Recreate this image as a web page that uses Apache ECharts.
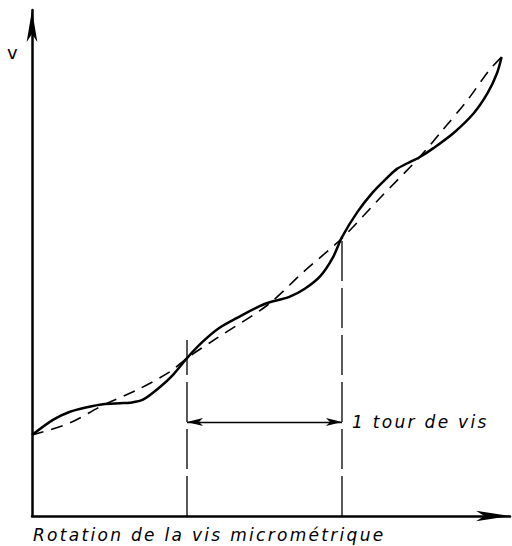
<!DOCTYPE html>
<html><head><meta charset="utf-8">
<script src="https://cdn.jsdelivr.net/npm/echarts@6/dist/echarts.min.js"></script>
<style>html,body{margin:0;padding:0;background:#fff}#c{width:512px;height:546px}#c svg text{letter-spacing:2.3px}</style>
</head><body><div id="c"></div>
<script>
// x: screw rotation in turns, y: v (arbitrary units)
const solidX = [0, 0.135, 0.245, 0.355, 0.458, 0.568, 0.632, 0.716, 0.826, 0.910, 1.0, 1.10, 1.21, 1.32, 1.50, 1.66, 1.76, 1.86, 1.94, 2.0, 2.10, 2.20, 2.29, 2.355, 2.44, 2.50, 2.59, 2.72, 2.85, 2.94, 3.0, 3.03];
const solidY = [1.60, 1.90, 2.06, 2.15, 2.21, 2.23, 2.24, 2.30, 2.55, 2.79, 3.12, 3.44, 3.72, 3.91, 4.19, 4.33, 4.49, 4.74, 5.10, 5.51, 6.01, 6.40, 6.68, 6.86, 7.00, 7.09, 7.27, 7.57, 7.96, 8.36, 8.75, 9.07];
const dashX = [0, 0.245, 0.458, 0.677, 0.89, 1.0, 1.19, 1.52, 1.75, 2.0, 2.25, 2.50, 2.65, 2.81, 2.95, 3.03];
const dashY = [1.60, 1.84, 2.19, 2.49, 2.85, 3.12, 3.51, 4.17, 4.82, 5.49, 6.30, 7.09, 7.63, 8.22, 8.81, 9.07];
const turnMarks = [1, 2];
const turnTops = [3.48, 5.53];
const arrowY = 1.86;
const xMax = 3.084, yMax = 10;
const xTitle = 'Rotation de la vis micrométrique';
const yTitle = 'v';
const turnLabel = '1 tour de vis';

const zip = (a, b) => a.map((v, i) => [v, b[i]]);
const chart = echarts.init(document.getElementById('c'), null, {renderer: 'svg'});
const font = '"DejaVu Sans", sans-serif';
const series = [
  {type: 'line', data: zip(solidX, solidY), smooth: 0.3, symbol: 'none',
   lineStyle: {color: '#000', width: 2.5}, z: 5},
  {type: 'line', data: zip(dashX, dashY), smooth: 0.3, symbol: 'none',
   lineStyle: {color: '#000', width: 1.6, type: [12, 8]}, z: 4}
];
turnMarks.forEach((t, i) => {
  series.push({type: 'line', data: [[t, 0], [t, turnTops[i]]], symbol: 'none',
    lineStyle: {color: '#000', width: 1.3, type: [40, 7]}});
});
series.push({type: 'line', data: [], symbol: 'none',
  markLine: {silent: true, symbol: ['arrow', 'arrow'], symbolSize: [6, 16],
    label: {show: false},
    lineStyle: {color: '#000', width: 1.3, type: 'solid'},
    data: [[{coord: [turnMarks[0], arrowY]}, {coord: [turnMarks[1], arrowY]}]]}});

chart.setOption({
  animation: false,
  backgroundColor: '#fff',
  grid: {left: 32, right: 2, top: 10, bottom: 30, containLabel: false},
  xAxis: {type: 'value', min: 0, max: xMax,
    axisLine: {show: true, symbol: ['none', 'arrow'], symbolSize: [8, 34], lineStyle: {color: '#000', width: 2.5}},
    axisTick: {show: false}, axisLabel: {show: false}, splitLine: {show: false}},
  yAxis: {type: 'value', min: 0, max: yMax,
    axisLine: {show: true, symbol: ['none', 'arrow'], symbolSize: [8, 32], lineStyle: {color: '#000', width: 2.5}},
    axisTick: {show: false}, axisLabel: {show: false}, splitLine: {show: false}},
  graphic: [
    {type: 'text', left: 33, top: 526, style: {text: xTitle, font: 'italic 17px ' + font, fill: '#000'}},
    {type: 'text', left: 7, top: 43, style: {text: yTitle, font: '18px ' + font, fill: '#000'}},
    {type: 'text', left: 352, top: 413, style: {text: turnLabel, font: 'italic 17px ' + font, fill: '#000'}}
  ],
  series: series
});
</script></body></html>
